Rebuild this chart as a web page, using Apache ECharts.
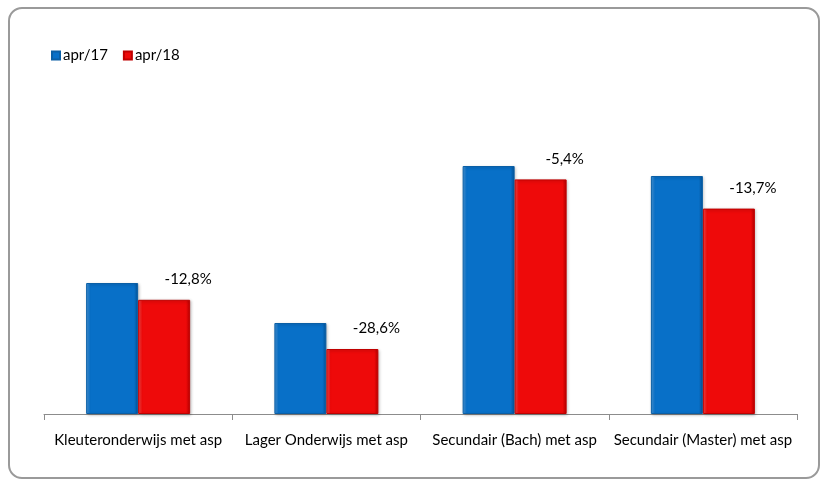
<!DOCTYPE html>
<html>
<head>
<meta charset="utf-8">
<script src="https://cdn.jsdelivr.net/npm/echarts@6/dist/echarts.min.js"></script>
<style>
  html, body { margin: 0; padding: 0; background: #fff; }
  #wrap { position: relative; width: 825px; height: 484px; }
  #chart { width: 825px; height: 484px; }
  #frame {
    position: absolute; left: 8px; top: 7px; width: 808px; height: 468px;
    border: 2px solid #9a9a9a; border-radius: 14px; pointer-events: none;
  }
</style>
</head>
<body>
<div id="wrap">
  <div id="chart"></div>
  <div id="frame"></div>
</div>
<script>
var categories = ['Kleuteronderwijs met asp', 'Lager Onderwijs met asp', 'Secundair (Bach) met asp', 'Secundair (Master) met asp']
var apr17 = [1310, 910, 2480, 2380]
var apr18 = [1142, 650, 2346, 2054]
var changes = ['-12,8%', '-28,6%', '-5,4%', '-13,7%']

var font = 'Lato, sans-serif'

function barColor (light, main, dark) {
  return new echarts.graphic.LinearGradient(0, 0, 1, 0, [
    { offset: 0, color: light },
    { offset: 0.08, color: main },
    { offset: 0.92, color: main },
    { offset: 1, color: dark }
  ])
}

var chart = echarts.init(document.getElementById('chart'))
chart.setOption({
  backgroundColor: '#fff',
  animation: false,
  textStyle: { fontFamily: font },
  legend: {
    left: 46,
    top: 43,
    itemWidth: 8,
    itemHeight: 8,
    itemGap: 15,
    icon: 'rect',
    textStyle: { fontSize: 15, color: '#000', fontFamily: font, padding: [0, 0, 0, -2] },
    data: ['apr/17', 'apr/18']
  },
  grid: {
    left: 44,
    right: 28,
    top: 114,
    bottom: 70
  },
  xAxis: {
    type: 'category',
    data: categories,
    axisLine: { lineStyle: { color: '#8c8c8c', width: 1 } },
    axisTick: { show: true, length: 6, lineStyle: { color: '#8c8c8c' } },
    axisLabel: { color: '#000', fontSize: 15, margin: 19, fontFamily: font, interval: 0 }
  },
  yAxis: {
    type: 'value',
    min: 0,
    max: 3000,
    show: false,
    splitLine: { show: false }
  },
  series: [
    {
      name: 'apr/17',
      type: 'bar',
      barWidth: 52,
      barGap: '0%',
      data: apr17,
      itemStyle: {
        color: barColor('#4a9be0', '#0870c8', '#045499'),
        borderColor: '#0a5fa6',
        borderWidth: 1,
        shadowColor: 'rgba(0,0,0,0.25)',
        shadowBlur: 3,
        shadowOffsetX: 1,
        shadowOffsetY: 1
      }
    },
    {
      name: 'apr/18',
      type: 'bar',
      barWidth: 52,
      data: apr18,
      itemStyle: {
        color: barColor('#ff4a4a', '#ee0a0a', '#b80000'),
        borderColor: '#c00000',
        borderWidth: 1,
        shadowColor: 'rgba(0,0,0,0.25)',
        shadowBlur: 3,
        shadowOffsetX: 1,
        shadowOffsetY: 1
      },
      label: {
        show: true,
        position: 'top',
        offset: [24, -8],
        color: '#000',
        fontSize: 15,
        fontFamily: font,
        formatter: function (p) { return changes[p.dataIndex] }
      }
    }
  ]
})
</script>
</body>
</html>
